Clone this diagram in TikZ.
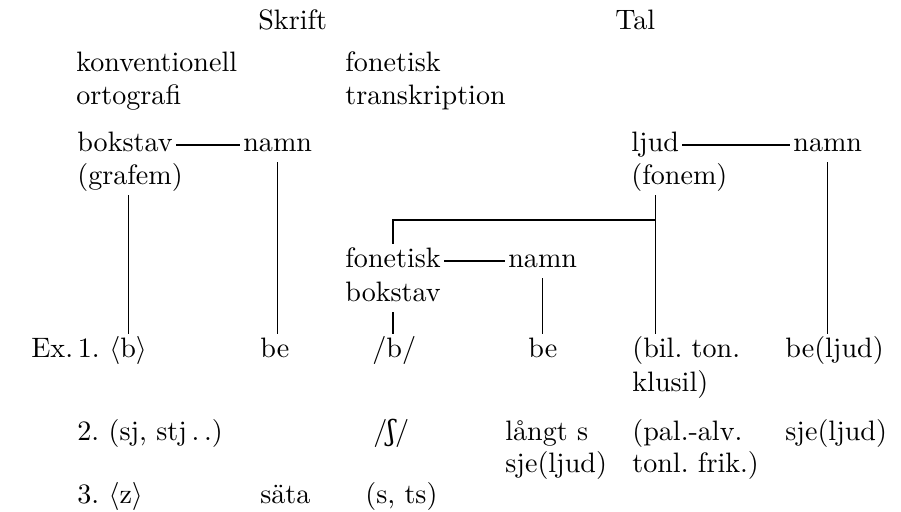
\documentclass[tikz,border=0pt]{standalone}
\usepackage{fontspec}
\newfontfamily\ipafont{DejaVu Serif}
\usetikzlibrary{positioning}

\begin{document}
\begin{tikzpicture}[x=0.356pt,y=-0.356pt,
  txt/.style={anchor=base west,inner xsep=1pt,inner ysep=1.5pt,text height=6.9pt,text depth=1.9pt}]
\useasboundingbox (0,0) rectangle (901,512);
\node[txt] (skrift) at (255,30) {Skrift};
\node[txt] (tal) at (612,30) {Tal};
\node[txt] (konv) at (73,72) {konventionell};
\node[txt] (orto) at (73,105) {ortografi};
\node[txt] (fontr) at (342,72) {fonetisk};
\node[txt] (transkr) at (342,105) {transkription};
\node[txt] (bok) at (74,152) {bokstav};
\node[txt] (grafem) at (74,185) {(grafem)};
\node[txt] (namnS) at (240,152) {namn};
\node[txt] (ljud) at (628,152) {ljud};
\node[txt] (fonem) at (628,185) {(fonem)};
\node[txt] (namnT) at (790,152) {namn};
\node[txt] (fbok) at (342,268) {fonetisk};
\node[txt] (fbok2) at (342,302) {bokstav};
\node[txt] (namnF) at (505,268) {namn};
\node[txt] (ex) at (28,358) {Ex.\,1.};
\node[txt] (b) at (106,358) {$\langle$b$\rangle$};
\node[txt] (beS) at (257,358) {be};
\node[txt] (bF) at (369,358) {/b/};
\node[txt] (beF) at (525,358) {be};
\node[txt] (bil) at (629,358) {(bil.\ ton.};
\node[txt] (klusil) at (629,391) {klusil)};
\node[txt] (beT) at (782,358) {be(ljud)};
\node[txt] (sj) at (74,440) {2.\ (sj, stj\,.\,.)};
\node[txt] (esh) at (370,440) {/{\ipafont ʃ}/};
\node[txt] (langt) at (502,440) {långt s};
\node[txt] (sjeF) at (502,473) {sje(ljud)};
\node[txt] (pal) at (629,440) {(pal.-alv.};
\node[txt] (frik) at (629,473) {tonl.\ frik.)};
\node[txt] (sjeT) at (782,440) {sje(ljud)};
\node[txt] (z) at (74,503) {3.\ $\langle$z$\rangle$};
\node[txt] (sata) at (257,503) {säta};
\node[txt] (sts) at (362,503) {(s, ts)};
\coordinate (j) at (ljud.south |- 0,220);
\draw (bok.east) -- (namnS.west);
\draw (ljud.east) -- (namnT.west);
\draw (fbok.east) -- (namnF.west);
\draw (b.north) -- (b.north |- grafem.south);
\draw (namnS.south) -- (namnS.south |- beS.north);
\draw (ljud.south |- fonem.south) -- (ljud.south |- bil.north);
\draw (j) -- (fbok.north |- j) -- (fbok.north);
\draw (fbok.south |- fbok2.south) -- (fbok.south |- bF.north);
\draw (namnF.south) -- (namnF.south |- beF.north);
\draw (namnT.south) -- (namnT.south |- beT.north);
\end{tikzpicture}
\end{document}
